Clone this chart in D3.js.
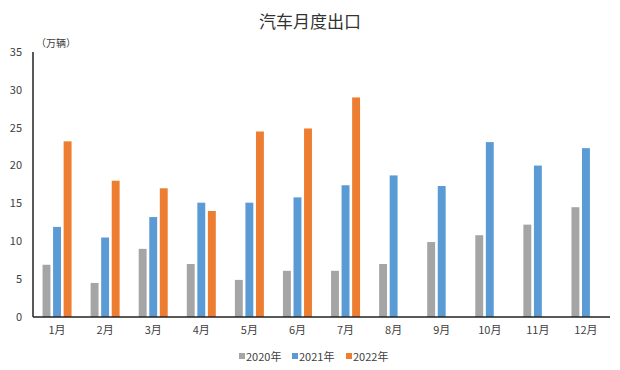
<!DOCTYPE html>
<html>
<head>
  <meta charset="utf-8">
  <script src="https://d3js.org/d3.v7.min.js"></script>
  <style>
  body { margin: 0; background: #fff; }
  text { font-family: "Noto Sans CJK SC", "DejaVu Sans", sans-serif; fill: #404040; }
  </style>
</head>
<body>
<svg id="chart" width="620" height="370"></svg>
<script>
// data
var months = ["1月","2月","3月","4月","5月","6月","7月","8月","9月","10月","11月","12月"];
var years = ["2020年","2021年","2022年"];
var v2020 = [6.9, 4.5, 9.0, 7.0, 4.9, 6.1, 6.1, 7.0, 9.9, 10.8, 12.2, 14.5];
var v2021 = [11.9, 10.5, 13.2, 15.1, 15.1, 15.8, 17.4, 18.7, 17.3, 23.1, 20.0, 22.3];
var v2022 = [23.2, 18.0, 17.0, 14.0, 24.5, 24.9, 29.0];
var yTicks = [0, 5, 10, 15, 20, 25, 30, 35];
var colors = ["#a5a5a5", "#5b9bd5", "#ed7d31"];

var margin = {top: 52, right: 10, bottom: 53, left: 33},
    width = 620 - margin.left - margin.right,
    height = 370 - margin.top - margin.bottom;

var svg = d3.select("#chart");
var g = svg.append("g")
  .attr("transform", "translate(" + margin.left + "," + margin.top + ")");

var x = d3.scaleBand().domain(months).range([0, width]);
// bars inside each month group
var xs = d3.scaleBand().domain(years).range([x.bandwidth()/2 - 14.5, x.bandwidth()/2 + 14.5]).paddingInner(0.25);
var y = d3.scaleLinear().domain([0, 35]).range([height, 0]);

var series = [v2020, v2021, v2022];
series.forEach(function(vals, si) {
  g.selectAll(".bar" + si)
    .data(vals)
    .enter().append("rect")
    .attr("class", "bar" + si)
    .attr("x", function(d, i) { return x(months[i]) + xs(years[si]); })
    .attr("width", xs.bandwidth())
    .attr("y", function(d) { return y(d); })
    .attr("height", function(d) { return height - y(d); })
    .attr("fill", colors[si]);
});

// axes
g.append("line")
  .attr("x1", 0).attr("x2", 0).attr("y1", 0).attr("y2", height)
  .attr("stroke", "#222").attr("stroke-width", 1.5);
g.append("line")
  .attr("x1", 0).attr("x2", width).attr("y1", height).attr("y2", height)
  .attr("stroke", "#222").attr("stroke-width", 1.5);

g.selectAll(".ytick")
  .data(yTicks)
  .enter().append("text")
  .attr("x", -11)
  .attr("y", function(d) { return y(d); })
  .attr("dy", "0.35em")
  .attr("text-anchor", "end")
  .style("font-size", "11px")
  .text(function(d) { return d; });

g.selectAll(".xlab")
  .data(months)
  .enter().append("text")
  .attr("x", function(d) { return x(d) + x.bandwidth()/2; })
  .attr("y", height + 17)
  .attr("text-anchor", "middle")
  .style("font-size", "11px")
  .text(function(d) { return d; });

// title and unit
svg.append("text")
  .attr("x", 310).attr("y", 28)
  .attr("text-anchor", "middle")
  .style("font-size", "17px")
  .style("fill", "#333")
  .text("汽车月度出口");
svg.append("text")
  .attr("x", 36).attr("y", 47)
  .style("font-size", "10px")
  .text("（万辆）");

// legend
var legendX = [239, 292, 346];
var lg = svg.selectAll(".legend")
  .data(years)
  .enter().append("g")
  .attr("transform", function(d, i) { return "translate(" + legendX[i] + ",357)"; });
lg.append("rect")
  .attr("x", 0).attr("y", -4).attr("width", 6).attr("height", 6)
  .attr("fill", function(d, i) { return colors[i]; });
lg.append("text")
  .attr("x", 7).attr("y", 0)
  .attr("dy", "0.35em")
  .style("font-size", "11px")
  .text(function(d) { return d; });
</script>
</body>
</html>
